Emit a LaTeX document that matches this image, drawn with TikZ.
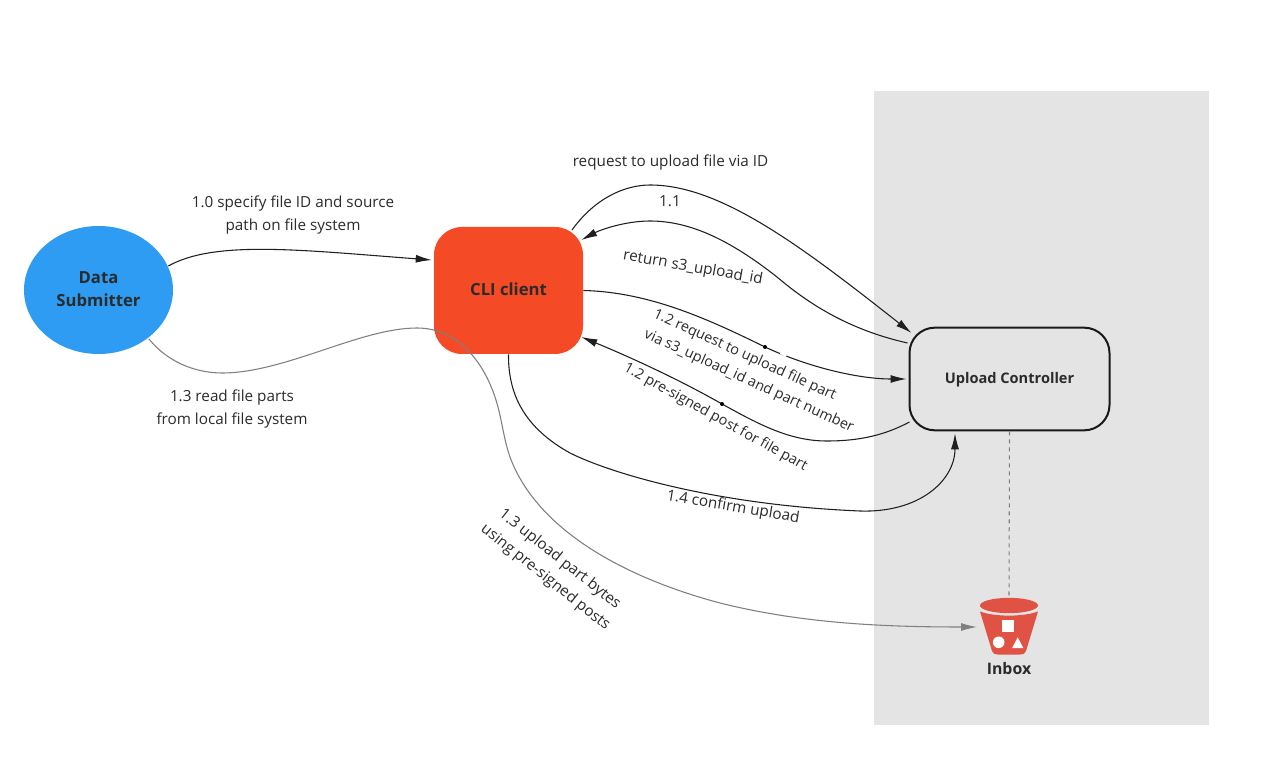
\documentclass[tikz,border=0pt]{standalone}
\usepackage{fontspec}
\setmainfont{Open Sans}
\usetikzlibrary{arrows.meta,shapes.geometric,calc}
\definecolor{txt}{HTML}{2B2B2B}
\definecolor{panel}{HTML}{E4E4E4}
\definecolor{subm}{HTML}{2D9CF2}
\definecolor{cli}{HTML}{F44A26}
\definecolor{bucket}{HTML}{E05243}
\definecolor{grayline}{HTML}{808080}
\tikzset{
  lbl/.style={text=txt,font=\fontsize{11.45pt}{17.25pt}\selectfont,align=center,inner sep=0pt},
  lblsmall/.style={text=txt,font=\fontsize{10.8pt}{16.5pt}\selectfont,align=left,inner sep=0pt},
  boldlbl/.style={text=txt,font=\fontsize{12.5pt}{17.25pt}\selectfont\bfseries,align=center,inner sep=0pt},
  flow/.style={draw=black!88,line width=.8pt,-{Latex[length=12pt,width=6pt]}},
  flowgray/.style={draw=grayline,line width=.8pt,-{Latex[length=12pt,width=6pt]}},
  dotmark/.style={circle,fill=black,inner sep=0pt,minimum size=3pt}
}
\begin{document}
\begin{tikzpicture}[x=.75pt,y=-.75pt]
\useasboundingbox (0,0) rectangle (1286,777);
\fill[white] (0,0) rectangle (1286,777);
\fill[panel] (874,91) rectangle (1209,725);

\node[ellipse,fill=subm,minimum width=111.75pt,minimum height=96pt,inner sep=0pt] (sub) at (98.5,290) {};
\node[boldlbl] (subt) at (98.5,289.5) {Data\\Submitter};
\node[rectangle,rounded corners=21pt,fill=cli,minimum width=111.75pt,minimum height=95.25pt,inner sep=0pt] (cl) at (508.5,290.5) {};
\node[boldlbl] (clt) at (508.5,289) {CLI client};
\node[rectangle,rounded corners=19pt,draw=black!90,line width=1.5pt,fill=panel,minimum width=150pt,minimum height=77pt,inner sep=0pt] (uc) at (1009.5,379) {};
\node[boldlbl,font=\fontsize{10.95pt}{14pt}\selectfont\bfseries] (uct) at (1009.5,380) {Upload Controller};

% bucket
\fill[bucket] (980,611.5) .. controls (995,617) and (1023,617) .. (1038,611.5) -- (1026,651) .. controls (1025,654) and (1023,654.5) .. (1020,654.5) -- (998,654.5) .. controls (995,654.5) and (993,654) .. (992,651) -- cycle;
\node[ellipse,fill=bucket,minimum width=43.5pt,minimum height=11.5pt,inner sep=0pt] (rim) at (1009,605.5) {};
\fill[white] (1002.3,620.3) rectangle (1013.7,632.3);
\fill[white] (998.7,642.3) circle[radius=5.8];
\fill[white] (1017.7,637.3) -- (1023.3,648) -- (1012.2,648) -- cycle;
\node[boldlbl,font=\fontsize{11.9pt}{14pt}\selectfont\bfseries] (inbox) at (1009,668.5) {Inbox};

% connectors
\draw[draw=grayline,line width=.8pt,dashed] (uc.south) -- (rim.north);
\draw[flow] ([shift={(-5,-24)}]sub.east) .. controls (215,240) and (300,250) .. ([shift={(-2,-30.5)}]cl.west);
\draw[flow] ([shift={(63.5,-60.5)}]cl.center) .. controls (595,198) and (625,185) .. (650,185) .. controls (720,185) and (800,245) .. ([shift={(3,-46)}]uc.west);
\draw[flow] ([shift={(-1,-36)}]uc.west) .. controls (850,330) and (810,305) .. (777,277) .. controls (730,240) and (690,221) .. (650,221) .. controls (625,221) and (600,230) .. ([shift={(-2,-50.5)}]cl.east);
\draw[flow] (cl.east) .. controls (650,292) and (710,320) .. (765,347) .. controls (810,368) and (860,379) .. ([shift={(-2,0)}]uc.west);
\draw[white,line width=2.2pt] (780.5,352.5) -- (786.5,355.5);
\node[dotmark] (d1) at (765,347) {};
\draw[flow] ([shift={(1,43)}]uc.west) .. controls (885,435) and (860,441) .. (827,441) .. controls (790,441) and (760,425) .. (722,404) .. controls (680,380) and (630,357) .. ([shift={(-2,46.5)}]cl.east);
\node[dotmark] (d2) at (722,404) {};
\draw[flow] (cl.south) .. controls (508,395) and (525,428) .. (570,453) .. controls (610,473) and (715,505) .. (860,511) .. controls (920,513) and (955,480) .. ([shift={(-54.5,2)}]uc.south);
\draw[flowgray] ([shift={(50.5,49)}]sub.center) .. controls (170,365) and (200,373) .. (222,373) .. controls (285,373) and (360,328) .. (417,328) .. controls (455,328) and (482,358) .. (495,397) .. controls (502,418) and (503,437) .. (510,457) .. controls (535,525) and (615,575) .. (720,603) .. controls (800,623) and (880,627) .. ([shift={(-32,21.5)}]rim.center);

% labels
\node[lbl] (l10) at (293,214.5) {1.0 specify file ID and source\\path on file system};
\node[lbl] (lreq) at (670.5,162) {request to upload file via ID};
\node[lbl] (l11) at (670,201.5) {1.1};
\node[lbl,rotate=-10] (lret) at (693,268) {return s3\_upload\_id};
\node[lblsmall,rotate=-24.5] (l12a) at (753.5,371.5) {1.2 request to upload file part\\via s3\_upload\_id and part number};
\node[lblsmall,rotate=-29] (l12b) at (715.5,417.5) {1.2 pre-signed post for file part};
\node[lbl,rotate=-9.5] (l14) at (733,507.5) {1.4 confirm upload};
\node[lbl] (l13a) at (232,408.5) {1.3 read file parts\\from local file system};
\node[lbl,rotate=-38.5] (l13b) at (552.5,568.5) {1.3 upload part bytes\\using pre-signed posts};
\end{tikzpicture}
\end{document}
